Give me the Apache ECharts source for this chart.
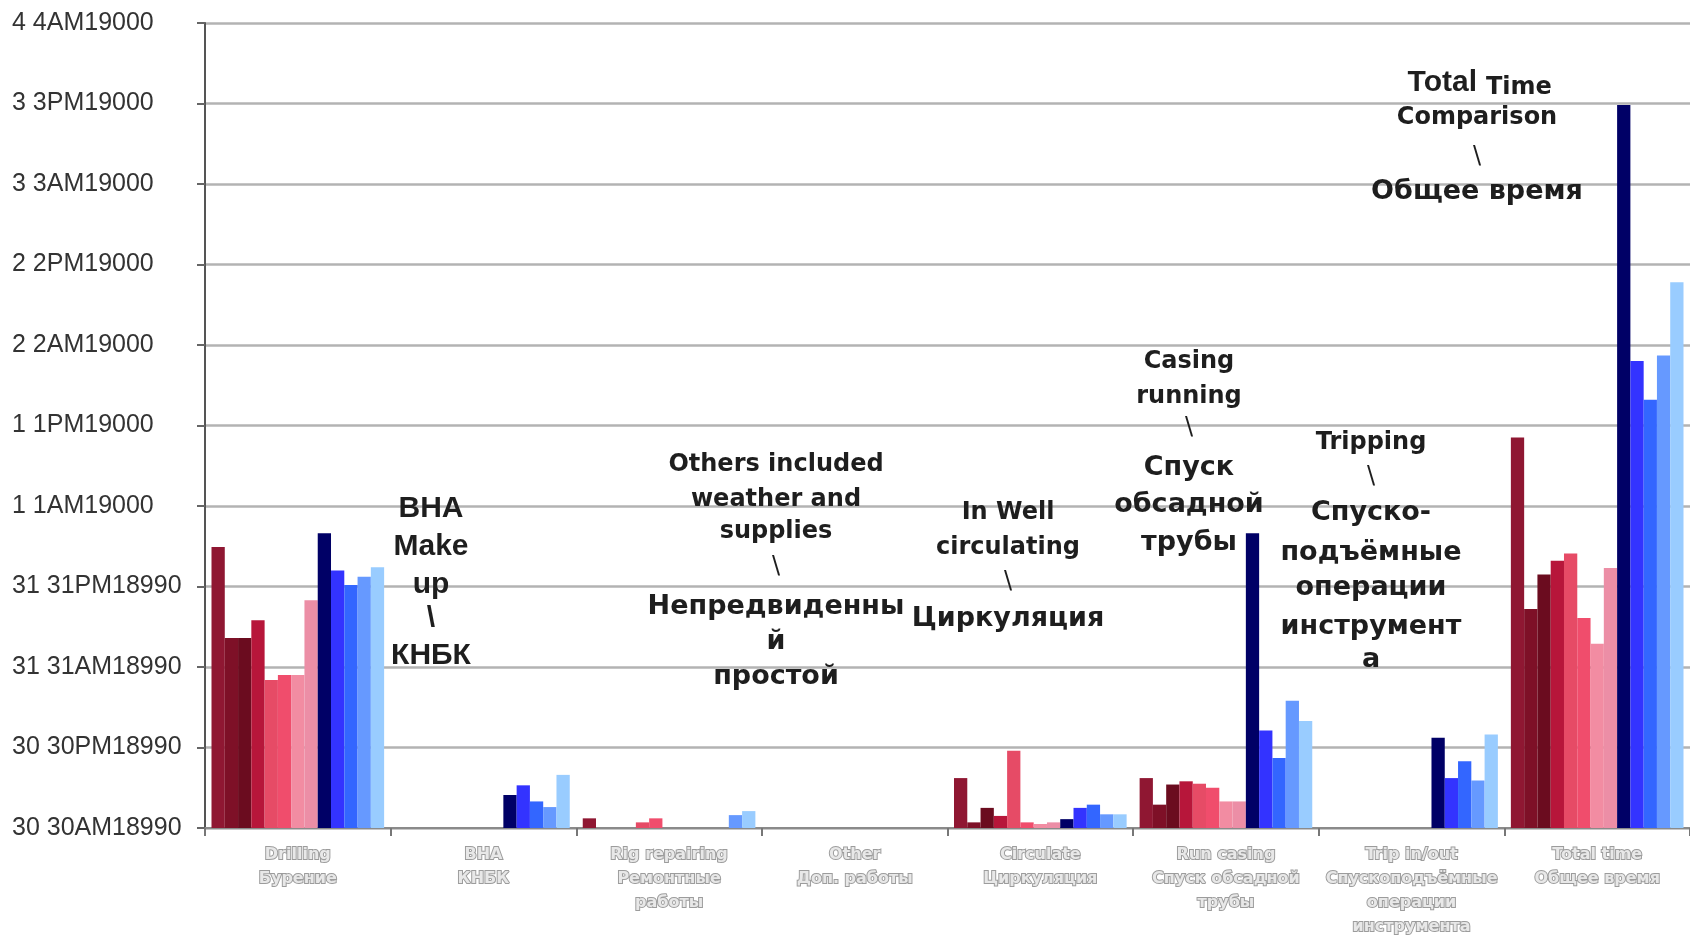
<!DOCTYPE html>
<html>
<head>
<meta charset="utf-8">
<script src="https://cdn.jsdelivr.net/npm/echarts@6/dist/echarts.min.js"></script>
<style>
  html, body { margin: 0; padding: 0; background: #ffffff; }
  #chart { width: 1690px; height: 939px; }
</style>
</head>
<body>
<div id="chart"></div>
<script>
// Operation categories (English / Russian)
const categories = [
  'Drilling\nБурение',
  'BHA\nКНБК',
  'Rig repairing\nРемонтные\nработы',
  'Other\nДоп. работы',
  'Circulate\nЦиркуляция',
  'Run casing\nСпуск обсадной\nтрубы',
  'Trip in/out\nСпускоподъёмные\nоперации\nинструмента',
  'Total time\nОбщее время'
];

// Value-axis tick labels, one per half-day step
const yTickLabels = [
  '30 30AM18990', '30 30PM18990', '31 31AM18990', '31 31PM18990',
  '1 1AM19000', '1 1PM19000', '2 2AM19000', '2 2PM19000',
  '3 3AM19000', '3 3PM19000', '4 4AM19000'
];

// Durations per well, in half-day units, by category
const red1 = [3.49, 0, 0.12, 0, 0.62, 0.62, 0, 4.85];
const red2 = [2.36, 0, 0, 0, 0.07, 0.29, 0, 2.72];
const red3 = [2.36, 0, 0, 0, 0.25, 0.54, 0, 3.15];
const red4 = [2.58, 0, 0, 0, 0.15, 0.58, 0, 3.32];
const red5 = [1.84, 0, 0.07, 0, 0.96, 0.55, 0, 3.41];
const red6 = [1.90, 0, 0.12, 0, 0.07, 0.50, 0, 2.61];
const red7 = [1.90, 0, 0, 0, 0.05, 0.33, 0, 2.29];
const red8 = [2.83, 0, 0, 0, 0.07, 0.33, 0, 3.23];
const blue1 = [3.66, 0.41, 0, 0, 0.11, 3.66, 1.12, 8.98];
const blue2 = [3.20, 0.53, 0, 0, 0.25, 1.21, 0.62, 5.80];
const blue3 = [3.02, 0.33, 0, 0, 0.29, 0.87, 0.83, 5.32];
const blue4 = [3.12, 0.26, 0.16, 0, 0.17, 1.58, 0.59, 5.87];
const blue5 = [3.24, 0.66, 0.21, 0, 0.17, 1.33, 1.16, 6.78];

const seriesData = [red1, red2, red3, red4, red5, red6, red7, red8,
                    blue1, blue2, blue3, blue4, blue5];
const seriesNames = ['R1', 'R2', 'R3', 'R4', 'R5', 'R6', 'R7', 'R8',
                     'B1', 'B2', 'B3', 'B4', 'B5'];
const seriesColors = [
  '#8f1732', '#7e1027', '#6b0c1f', '#b7163a', '#e64b66', '#f04d6c', '#f28ca2', '#ec8ea6',
  '#000066', '#3333ff', '#3366ff', '#6699ff', '#99ccff'
];

// Annotation text blocks
const EN = 'bold 24px "DejaVu Sans"';
const RU = 'bold 27px "DejaVu Sans"';
const BIG = 'bold 30px "Liberation Sans"';
const SLASH = '24px "DejaVu Sans"';
const notes = [
  { x: 431, lines: [['BHA', 509, BIG], ['Make', 547, BIG], ['up', 585, BIG], ['\\', 619, BIG], ['КНБК', 656, BIG]] },
  { x: 776, lines: [['Others included', 465, EN], ['weather and', 500, EN], ['supplies', 532, EN], ['\\', 567, SLASH],
                    ['Непредвиденны', 607, RU], ['й', 642, RU], ['простой', 677, RU]] },
  { x: 1008, lines: [['In Well', 513, EN], ['circulating', 548, EN], ['\\', 582, SLASH], ['Циркуляция', 619, RU]] },
  { x: 1189, lines: [['Casing', 362, EN], ['running', 397, EN], ['\\', 428, SLASH],
                     ['Спуск', 468, RU], ['обсадной', 505, RU], ['трубы', 543, RU]] },
  { x: 1371, lines: [['Tripping', 443, EN], ['\\', 477, SLASH], ['Спуско-', 513, RU], ['подъёмные', 553, RU],
                     ['операции', 588, RU], ['инструмент', 627, RU], ['а', 660, RU]] },
  { x: 1477, lines: [['Comparison', 118, EN], ['\\', 157, SLASH], ['Общее время', 192, RU]] }
];

function textEl(text, x, y, font, align) {
  return {
    type: 'text', z: 100,
    style: {
      text: text, x: x, y: y, font: font, fill: '#1e1e1e',
      align: align, textAlign: align,
      verticalAlign: 'middle', textVerticalAlign: 'middle'
    }
  };
}

const graphics = [];
notes.forEach(function (n) {
  n.lines.forEach(function (l) { graphics.push(textEl(l[0], n.x, l[1], l[2], 'center')); });
});
graphics.push(textEl('Total', 1477, 83, BIG, 'right'));
graphics.push(textEl('Time', 1486, 88, EN, 'left'));

const chart = echarts.init(document.getElementById('chart'), null, { renderer: 'canvas' });

chart.setOption({
  animation: false,
  backgroundColor: '#ffffff',
  grid: { left: 205, right: 0, top: 23, bottom: 109, containLabel: false },
  xAxis: {
    type: 'category',
    data: categories,
    axisLine: { show: true, lineStyle: { color: '#8a8a8a', width: 2 } },
    axisTick: { show: true, length: 8, lineStyle: { color: '#777', width: 2 } },
    axisLabel: {
      interval: 0,
      margin: 15,
      fontFamily: 'DejaVu Sans',
      fontWeight: 'bold',
      fontSize: 16,
      lineHeight: 24,
      color: '#e8e8e8',
      textBorderColor: '#9c9c9c',
      textBorderWidth: 2
    }
  },
  yAxis: {
    type: 'value',
    min: 0,
    max: 10,
    interval: 1,
    axisLine: { show: true, lineStyle: { color: '#555', width: 2 } },
    axisTick: { show: true, length: 8, lineStyle: { color: '#666', width: 2 } },
    splitLine: { show: true, lineStyle: { color: '#b3b3b3', width: 2.5 } },
    axisLabel: {
      align: 'left',
      margin: 193,
      fontFamily: 'Liberation Sans',
      fontSize: 25,
      color: '#333',
      formatter: function (v) { return yTickLabels[Math.round(v)]; }
    }
  },
  series: seriesData.map(function (d, i) {
    return {
      name: seriesNames[i],
      type: 'bar',
      data: d,
      barGap: '0%',
      barCategoryGap: '7%',
      itemStyle: { color: seriesColors[i] }
    };
  }),
  graphic: graphics
});
</script>
</body>
</html>
